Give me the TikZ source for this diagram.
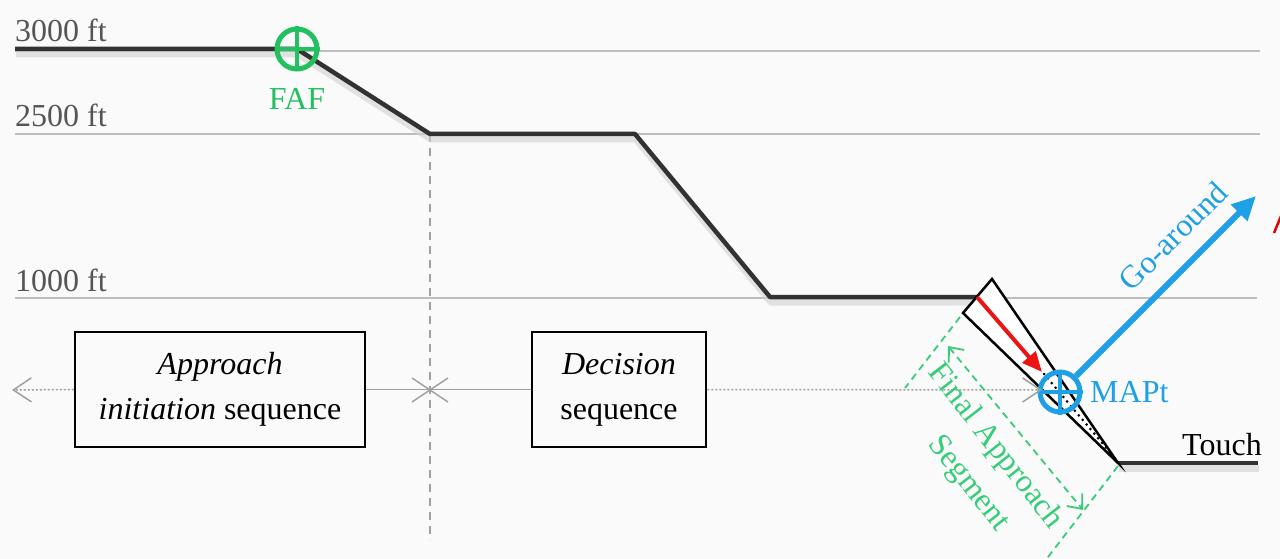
\documentclass[tikz,border=0pt]{standalone}
\usepackage{fontspec}
\setmainfont{Liberation Serif}
\usetikzlibrary{arrows.meta}
\definecolor{bg}{RGB}{250,250,250}
\definecolor{refgray}{RGB}{190,190,190}
\definecolor{profile}{RGB}{50,50,50}
\definecolor{fafgreen}{RGB}{34,192,95}
\definecolor{seggreen}{RGB}{55,205,120}
\definecolor{mapblue}{RGB}{30,160,230}
\definecolor{labelgray}{RGB}{85,85,85}
\definecolor{timegray}{RGB}{160,160,160}
\begin{document}
\begin{tikzpicture}[x=1pt,y=-1pt,
  bigfont/.style={font=\fontsize{32}{45}\selectfont},
  reflevel/.style={draw=refgray,line width=1.8pt},
  alttext/.style={bigfont,text=labelgray,inner sep=0pt,anchor=base west},
  flight/.style={draw=profile,line width=4.5pt,line join=round},
  flightshadow/.style={draw=black!18,line width=7pt,line join=round,opacity=0.6},
  seqbox/.style={draw=black,line width=2.5pt,bigfont,align=center,inner sep=0pt},
  fixring/.style={circle,line width=5pt,minimum size=40pt,inner sep=0pt},
  timeline/.style={draw=timegray,line width=1.5pt},
  segline/.style={draw=seggreen,line width=1.8pt,dash pattern=on 7pt off 5pt},
  graybarb/.tip={Straight Barb[length=18pt,width=24pt,line width=1.5pt]},
  greenbarb/.tip={Straight Barb[length=12pt,width=20pt,line width=1.8pt]}
]
\useasboundingbox (0,0) rectangle (1280,559);
\fill[bg] (0,0) rectangle (1280,559);

% altitude reference levels
\draw[reflevel] (15,51) -- (1260,51);
\draw[reflevel] (15,134) -- (1260,134);
\draw[reflevel] (15,298) -- (1257,298);
\node[alttext] (l3000) at (15,42) {3000 ft};
\node[alttext] (l2500) at (15,127) {2500 ft};
\node[alttext] (l1000) at (15,291) {1000 ft};

% profile vertices
\coordinate (p0) at (15,49);
\coordinate (p1) at (297,49);
\coordinate (p2) at (430,134);
\coordinate (p3) at (635,134);
\coordinate (p4) at (770,297);
\coordinate (p5) at (977,297);
\coordinate (wtl) at (963,313);
\coordinate (wtr) at (992,279);
\coordinate (apex) at (1118,463);
\coordinate (touchend) at (1258,463);

% vertical divider
\draw[draw=timegray,line width=1.3pt,dash pattern=on 8pt off 6pt] (p2) -- (430,540);

% flight profile with soft shadow
\draw[flightshadow,transform canvas={shift={(1pt,-5pt)}}] (p0) -- (p1) -- (p2) -- (p3) -- (p4) -- (p5);
\draw[flightshadow,transform canvas={shift={(1pt,-5pt)}}] (apex) -- (touchend);
\draw[flight] (p0) -- (p1) -- (p2) -- (p3) -- (p4) -- (p5);
\draw[flight] (apex) -- (touchend);

% final approach wedge
\draw[fill=white,line width=2.5pt,line join=miter] (wtl) -- (wtr) -- (apex) -- cycle;
\draw[black,line width=3pt,line cap=round,dash pattern=on 0pt off 6pt] (1044,374) -- (1108,450);
\draw[draw={rgb,255:red,235;green,20;blue,20},line width=4pt,-{Triangle[length=20pt,width=17pt]}] (p5) -- (1042,372);

% FAF
\node[fixring,draw=fafgreen] (faf) at (p1) {};
\draw[fafgreen,line width=4pt] (faf.north) -- (faf.south) (faf.west) -- (faf.east);
\node[bigfont,text=fafgreen,inner sep=0pt,anchor=base] (faflbl) at (297,110) {FAF};

% MAPt
\node[fixring,draw=mapblue] (mapt) at (1060,392) {};
\draw[mapblue,line width=4pt] (mapt.north) -- (mapt.south) (mapt.west) -- (mapt.east);
\node[bigfont,text=mapblue,inner sep=0pt,anchor=base west] (maptlbl) at (1090,402) {MAPt};
\coordinate (gotip) at (1256,196);
\draw[mapblue,line width=6pt,-{Triangle[length=24pt,width=22pt]}] (mapt.45) -- (gotip);
\node[bigfont,text=mapblue,rotate=45,inner sep=0pt] (golbl) at (1173,236) {Go-around};
\draw[red!90!black,line width=2.5pt] (1274,233) -- (1281,216);

% touchdown
\node[bigfont,inner sep=0pt,anchor=base west] (touch) at (1182,455) {Touch};

% sequences
\node[seqbox,minimum width=290pt,minimum height=115pt] (apbox) at (220,389.5)
  {\textit{Approach}\\\textit{initiation} sequence};
\node[seqbox,minimum width=174pt,minimum height=115pt] (decbox) at (619,389.5)
  {\textit{Decision}\\sequence};
\coordinate (leftend) at (12,390);
\coordinate (mapin) at (1042,390);
\draw[timeline,dash pattern=on 2pt off 2pt,-{graybarb}] (apbox.west) -- (leftend);
\draw[timeline] (apbox.east) -- (decbox.west);
\draw[timeline,dash pattern=on 2pt off 2pt,-{graybarb}] (decbox.east) -- (mapin);
\coordinate (xmark) at (430,390);
\draw[timeline] ([shift={(-18pt,12pt)}]xmark) -- ([shift={(18pt,-12pt)}]xmark)
                ([shift={(-18pt,-12pt)}]xmark) -- ([shift={(18pt,12pt)}]xmark);

% final approach segment dimension
\coordinate (e1a) at (960,317);
\coordinate (e1b) at (905,388);
\coordinate (e2a) at (1118,466);
\coordinate (e2b) at (1045,561);
\coordinate (d1) at (948,346);
\coordinate (d2) at (1083,510);
\draw[segline] (e1a) -- (e1b);
\draw[segline] (e2a) -- (e2b);
\draw[segline,{greenbarb}-{greenbarb}] (d1) -- (d2);
\node[bigfont,text=seggreen,rotate=-52,inner sep=0pt] (falbl) at (995,447) {Final Approach};
\node[bigfont,text=seggreen,rotate=-52,inner sep=0pt] (seglbl) at (968,484) {Segment};
\end{tikzpicture}
\end{document}
